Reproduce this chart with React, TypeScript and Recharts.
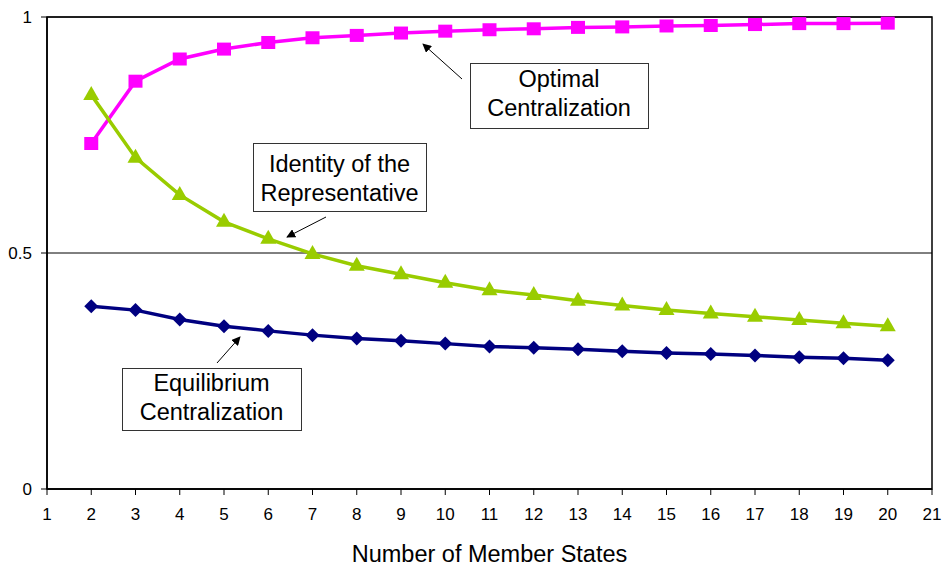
import { LineChart, Line, XAxis, YAxis, CartesianGrid, ReferenceArea } from 'recharts';

const memberStates = [2, 3, 4, 5, 6, 7, 8, 9, 10, 11, 12, 13, 14, 15, 16, 17, 18, 19, 20];
const optimal = [0.732, 0.864, 0.911, 0.932, 0.946, 0.956, 0.961, 0.966, 0.970, 0.973, 0.975, 0.978, 0.979, 0.981, 0.982, 0.984, 0.986, 0.986, 0.987];
const identity = [0.835, 0.702, 0.623, 0.566, 0.530, 0.498, 0.473, 0.455, 0.437, 0.421, 0.411, 0.399, 0.389, 0.379, 0.372, 0.365, 0.358, 0.351, 0.345];
const equilibrium = [0.387, 0.379, 0.359, 0.345, 0.335, 0.326, 0.319, 0.314, 0.308, 0.302, 0.299, 0.296, 0.292, 0.288, 0.286, 0.283, 0.279, 0.277, 0.273];
const xTicks = [1, 2, 3, 4, 5, 6, 7, 8, 9, 10, 11, 12, 13, 14, 15, 16, 17, 18, 19, 20, 21];
const yTicks = [0, 0.5, 1];

const data = memberStates.map((n, i) => ({
  n,
  optimal: optimal[i],
  identity: identity[i],
  equilibrium: equilibrium[i],
}));

const FONT = '"Liberation Sans", Arial, sans-serif';

const SquareDot = (props: any) => {
  const { cx, cy, index } = props;
  return <rect key={`sq-${index}`} x={cx - 7} y={cy - 6.5} width={14} height={13} fill="#FF00FF" />;
};

const TriangleDot = (props: any) => {
  const { cx, cy, index } = props;
  return (
    <polygon
      key={`tr-${index}`}
      points={`${cx},${cy - 9} ${cx + 8},${cy + 5} ${cx - 8},${cy + 5}`}
      fill="#99CC00"
    />
  );
};

const DiamondDot = (props: any) => {
  const { cx, cy, index } = props;
  return (
    <polygon
      key={`dm-${index}`}
      points={`${cx},${cy - 7} ${cx + 7},${cy} ${cx},${cy + 7} ${cx - 7},${cy}`}
      fill="#000080"
    />
  );
};

// text boxes with arrows, placed over the chart
function Annotations() {
  const boxes = [
    { x: 253, y: 143, w: 173, h: 68, lines: ['Identity of the', 'Representative'], base: 172 },
    { x: 122, y: 368, w: 179, h: 62, lines: ['Equilibrium', 'Centralization'], base: 391 },
    { x: 470, y: 63, w: 178, h: 65, lines: ['Optimal', 'Centralization'], base: 87 },
  ];
  const arrows = [
    { x1: 326, y1: 217, x2: 287, y2: 237 },
    { x1: 217, y1: 363, x2: 240, y2: 337 },
    { x1: 462, y1: 79, x2: 423, y2: 44 },
  ];
  return (
    <svg width={943} height={566} style={{ position: 'absolute', left: 0, top: 0, pointerEvents: 'none' }}>
      <defs>
        <marker id="head" viewBox="0 0 10 10" refX="9" refY="5" markerWidth="9" markerHeight="9" markerUnits="userSpaceOnUse" orient="auto">
          <path d="M0,0 L10,5 L0,10 z" fill="#000" />
        </marker>
      </defs>
      {arrows.map((a, i) => (
        <line key={i} x1={a.x1} y1={a.y1} x2={a.x2} y2={a.y2} stroke="#000" strokeWidth={1} markerEnd="url(#head)" />
      ))}
      {boxes.map((b, i) => (
        <g key={i}>
          <rect x={b.x + 0.5} y={b.y + 0.5} width={b.w} height={b.h} fill="#fff" stroke="#333" strokeWidth={1} />
          {b.lines.map((t, j) => (
            <text
              key={j}
              x={b.x + b.w / 2}
              y={b.base + j * 28.5}
              textAnchor="middle"
              fontFamily={FONT}
              fontSize={23.5}
              fill="#000"
            >
              {t}
            </text>
          ))}
        </g>
      ))}
    </svg>
  );
}

export default function App() {
  return (
    <div style={{ position: 'absolute', left: 0, top: 0, width: 943, height: 566, background: '#fff' }}>
      <LineChart width={943} height={566} data={data} margin={{ top: 17, right: 11, bottom: 0, left: 0 }}>
        <CartesianGrid vertical={false} stroke="#000" strokeWidth={1} />
        <XAxis
          dataKey="n"
          type="number"
          domain={[1, 21]}
          ticks={xTicks}
          interval={0}
          height={77}
          tickSize={6}
          tickMargin={13}
          axisLine={{ stroke: '#000', strokeWidth: 1.5 }}
          tickLine={{ stroke: '#000' }}
          tick={{ fill: '#000', fontSize: 17, fontFamily: FONT }}
          label={{ value: 'Number of Member States', position: 'insideBottom', offset: 4, fill: '#000', fontSize: 23.5, fontFamily: FONT }}
        />
        <YAxis
          type="number"
          domain={[0, 1]}
          ticks={yTicks}
          width={47}
          tickSize={6}
          tickMargin={9}
          axisLine={{ stroke: '#000', strokeWidth: 1.5 }}
          tickLine={{ stroke: '#000' }}
          tick={{ fill: '#000', fontSize: 17, fontFamily: FONT }}
        />
        <ReferenceArea x1={1} x2={21} y1={0} y2={1} fill="none" stroke="#000" strokeWidth={1.5} />
        <Line dataKey="optimal" stroke="#FF00FF" strokeWidth={3.5} dot={SquareDot} isAnimationActive={false} />
        <Line dataKey="identity" stroke="#99CC00" strokeWidth={3.5} dot={TriangleDot} isAnimationActive={false} />
        <Line dataKey="equilibrium" stroke="#000080" strokeWidth={3.5} dot={DiamondDot} isAnimationActive={false} />
      </LineChart>
      <Annotations />
    </div>
  );
}
